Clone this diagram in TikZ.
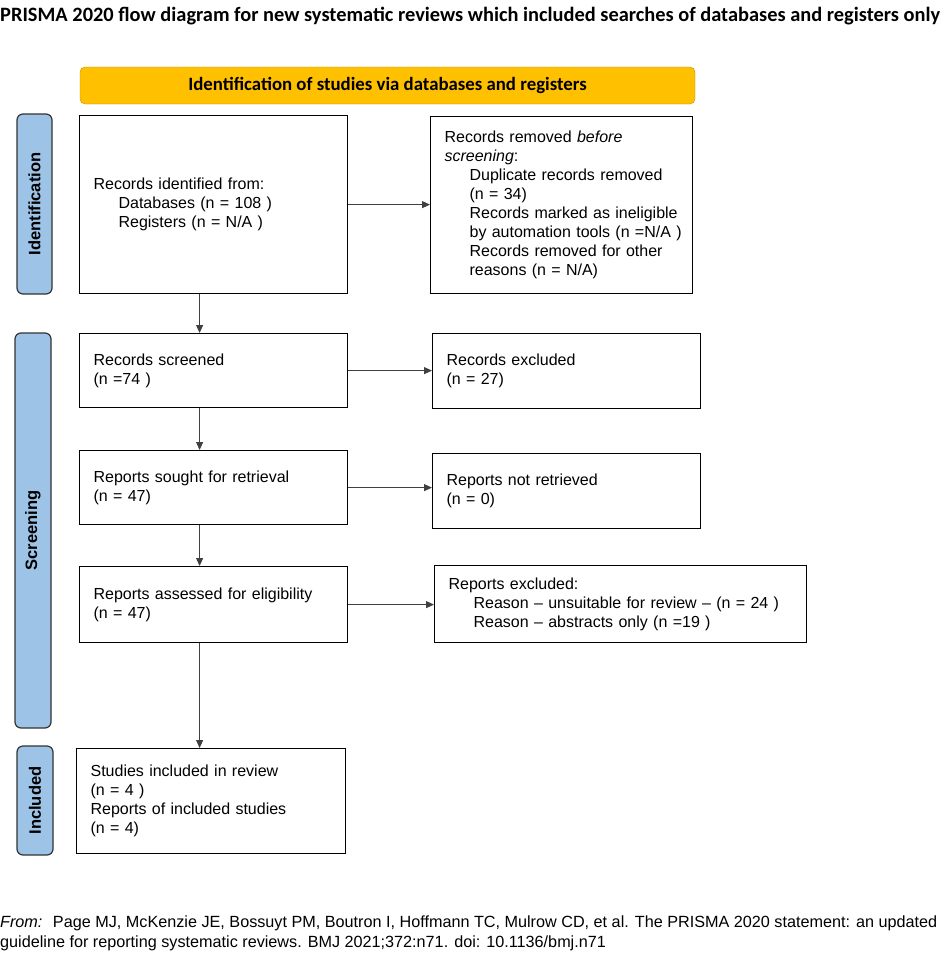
\documentclass[tikz,border=0pt]{standalone}
\usepackage{fontspec}
\setmainfont{Liberation Sans}
\newfontfamily\calib{Carlito}
\usetikzlibrary{arrows.meta}
\definecolor{prismayellow}{RGB}{255,192,0}
\definecolor{prismablue}{RGB}{157,195,230}
\tikzset{
  box/.style={rectangle,draw,line width=1.2pt,anchor=north west,align=left,
    inner xsep=14pt,inner ysep=0pt,font=\fontsize{16}{19}\selectfont},
  side/.style={rectangle,rounded corners=6pt,draw=black!80,line width=1.2pt,
    fill=prismablue,rotate=90,inner sep=0pt,font=\bfseries\fontsize{16.5}{19}\selectfont},
}
\newcommand{\ind}{\hspace*{25pt}}
\begin{document}
\begin{tikzpicture}[x=1pt,y=-1pt,>={Triangle[length=8pt,width=7pt]}]
\useasboundingbox (0,0) rectangle (945,954);

\node (ttl) [anchor=base west,inner sep=0pt,font=\calib\bfseries\fontsize{20.4}{24}\selectfont] at (0,21)
  {PRISMA 2020 flow diagram for new systematic reviews which included searches of databases and registers only};
\node (hd) [rectangle,rounded corners=5pt,draw=prismayellow!75!black,fill=prismayellow,
  minimum width=615pt,minimum height=37pt,font=\calib\bfseries\fontsize{18.8}{22}\selectfont] at (387.5,85.5)
  {Identification of studies via databases and registers};

% phases
\node (sid) [side,minimum width=180pt,minimum height=35pt] at (34.5,204) {Identification};
\node (ssc) [side,minimum width=395pt,minimum height=36pt] at (33,530.5) {Screening};
\node (sin) [side,minimum width=109pt,minimum height=36pt] at (35,800.5) {Included};

% identification
\node (id) [box,text width=240pt,minimum height=178pt] at (79,115)
  {Records identified from:\\\ind Databases (n = 108 )\\\ind Registers (n = N/A )};
\node (rm) [box,text width=234pt,minimum height=177pt] at (430,116)
  {Records removed \textit{before}\\\textit{screening}:\\
   \ind Duplicate records removed\\\ind (n = 34)\\
   \ind Records marked as ineligible\\\ind \mbox{by automation tools (n =N/A )}\\
   \ind Records removed for other\\\ind reasons (n = N/A)};

% screening
\node (scr) [box,text width=240pt,minimum height=74pt] at (79,333) {Records screened\\(n =74 )};
\node (exc) [box,text width=240pt,minimum height=75pt] at (432,333) {Records excluded\\(n = 27)};
\node (sgt) [box,text width=240pt,minimum height=74pt] at (79,450) {Reports sought for retrieval\\(n = 47)};
\node (nr) [box,text width=240pt,minimum height=75pt] at (432,453) {Reports not retrieved\\(n = 0)};
\node (el) [box,text width=240pt,minimum height=76pt] at (79,566) {Reports assessed for eligibility\\(n = 47)};
\node (rx) [box,text width=344pt,minimum height=77pt] at (434,565)
  {Reports excluded:\\\ind Reason -- unsuitable for review -- (n = 24 )\\\ind Reason -- abstracts only (n =19 )};

% included
\node (inc) [box,text width=241pt,minimum height=105pt] at (76,748)
  {Studies included in review\\(n = 4 )\\Reports of included studies\\(n = 4)};

\draw [->,line width=0.9pt,black!75] (id.east) -- (id.east -| rm.west);
\draw [->,line width=0.9pt,black!75] (scr.east) -- (scr.east -| exc.west);
\draw [->,line width=0.9pt,black!75] (sgt.east) -- (sgt.east -| nr.west);
\draw [->,line width=0.9pt,black!75] (el.east) -- (el.east -| rx.west);

\draw [->,line width=0.9pt,black!75] ([xshift=-14pt]id.south) -- ([xshift=-14pt]id.south |- scr.north);
\draw [->,line width=0.9pt,black!75] ([xshift=-14pt]scr.south) -- ([xshift=-14pt]scr.south |- sgt.north);
\draw [->,line width=0.9pt,black!75] ([xshift=-14pt]sgt.south) -- ([xshift=-14pt]sgt.south |- el.north);
\draw [->,line width=0.9pt,black!75] ([xshift=-14pt]el.south) -- ([xshift=-14pt]el.south |- inc.north);

\node (src) [anchor=north west,inner sep=0pt,align=left,font=\fontsize{16.2}{20}\selectfont] at (0,916)
  {\textit{From:}~ Page MJ, McKenzie JE, Bossuyt PM, Boutron I, Hoffmann TC, Mulrow CD, et al. The PRISMA 2020 statement: an updated\\
   guideline for reporting systematic reviews. BMJ 2021;372:n71. doi: 10.1136/bmj.n71};
\end{tikzpicture}
\end{document}
